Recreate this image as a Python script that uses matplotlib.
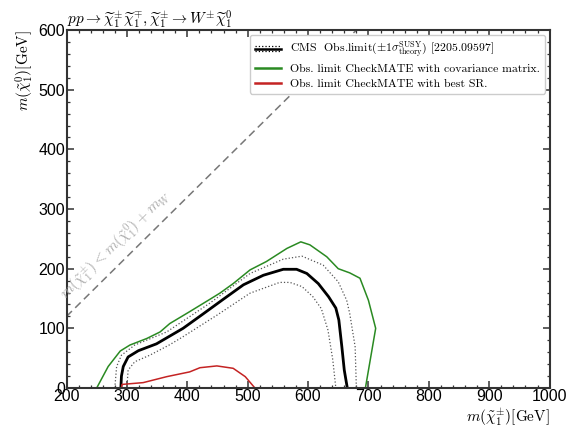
import matplotlib
matplotlib.use("Agg")
import matplotlib.pyplot as plt
from matplotlib.legend_handler import HandlerBase
from matplotlib.lines import Line2D
from matplotlib.ticker import MultipleLocator

plt.rcParams["mathtext.fontset"] = "cm"
plt.rcParams["font.family"] = ["Liberation Sans", "DejaVu Sans"]

# CMS observed limit (central) and its +-1 sigma_theory band edges
cms_x = [290, 291, 294, 302, 319, 349, 393, 426, 460, 493, 526, 559, 581, 598,
         617, 634, 646, 651, 656, 660, 665]
cms_y = [0, 20, 36, 52, 62.5, 74, 100, 124, 149, 173, 189, 199, 199, 192,
         175, 153, 134, 114, 69, 30, 0]
cms_up_x = [280, 283, 291, 313, 366, 437, 504, 559, 590, 625, 650, 664, 669, 678, 680]
cms_up_y = [0, 36, 55, 72, 94, 142, 192, 216, 221, 206, 178, 147, 125, 69, 0]
cms_dn_x = [300, 302, 313, 338, 370, 393, 449, 504, 553, 570, 590, 608, 622,
            633, 641, 646]
cms_dn_y = [0, 30, 44, 55, 72, 86, 122, 159, 177, 177, 170, 153, 133, 97, 47, 0]

# CheckMATE limits
cov_x = [250, 269, 289, 305, 333, 355, 371, 404, 438, 454, 476, 504, 531, 565,
         588, 603, 631, 650, 669, 686, 700, 712, 695]
cov_y = [0, 36, 62, 72, 83, 94, 108, 128, 149, 159, 175, 198, 212, 234,
         245, 240, 220, 200, 193, 184, 147, 100, 0]
bsr_x = [291, 292, 327, 366, 404, 421, 449, 476, 496, 512]
bsr_y = [0, 6, 9, 19, 27, 34, 37, 33, 19, 0]

M_W = 80
kin_x = [200, 1000]

GREEN, RED, DOT = "#2a8a22", "#c42323", "#555555"


class HandlerBand(HandlerBase):
    """Solid central line flanked by two dotted lines."""

    def create_artists(self, legend, orig_handle, xdescent, ydescent,
                       width, height, fontsize, trans):
        mid = height / 2 - ydescent
        x = [-xdescent, -xdescent + width]
        out = []
        for dy, ls, lw in ((0, "-", 1.8), (height * 0.32, ":", 0.9),
                           (-height * 0.32, ":", 0.9)):
            ln = Line2D(x, [mid + dy] * 2, linestyle=ls, linewidth=lw, color="black")
            ln.set_transform(trans)
            out.append(ln)
        return out


fig = plt.figure(figsize=(5.66, 4.30), dpi=100)
ax = fig.add_axes([0.1175, 0.0977, 0.8535, 0.8323])

ax.plot(kin_x, [v - M_W for v in kin_x], color="#777777", linestyle=(0, (5, 3)),
        linewidth=1.1, zorder=1)
ax.text(282, 240,
        r"$m(\tilde{\chi}_1^{\pm}) < m(\tilde{\chi}_1^{0}) + m_W$",
        rotation=44.6, rotation_mode="anchor", ha="center", va="center",
        fontsize=11, color="#aaaaaa")

ax.plot(cms_up_x, cms_up_y, color=DOT, linestyle=":", linewidth=0.9)
ax.plot(cms_dn_x, cms_dn_y, color=DOT, linestyle=":", linewidth=0.9)
ax.plot(cms_x, cms_y, color="black", linewidth=2.0)
ax.plot(cov_x, cov_y, color=GREEN, linewidth=1.1)
ax.plot(bsr_x, bsr_y, color=RED, linewidth=1.1)

band = Line2D([], [])
handles = [band,
           Line2D([], [], color=GREEN, linewidth=1.8),
           Line2D([], [], color=RED, linewidth=1.8)]
labels = [r"CMS  Obs.limit$(\pm1\sigma^{\mathrm{SUSY}}_{\mathrm{theory}})$ [2205.09597]",
          "Obs. limit CheckMATE with covariance matrix.",
          "Obs. limit CheckMATE with best SR."]
leg = ax.legend(handles, labels, handler_map={band: HandlerBand()},
                loc="upper right", prop={"family": "cmr10", "size": 8.5},
                framealpha=1, edgecolor="#cccccc", borderaxespad=0.4,
                borderpad=0.4, handlelength=2.2, labelspacing=0.35)
leg.set_zorder(5)

ax.set_xlim(200, 1000)
ax.set_ylim(0, 600)
ax.xaxis.set_major_locator(MultipleLocator(100))
ax.xaxis.set_minor_locator(MultipleLocator(20))
ax.yaxis.set_major_locator(MultipleLocator(100))
ax.yaxis.set_minor_locator(MultipleLocator(20))
ax.tick_params(which="both", direction="in", top=True, right=True,
               colors="#333333", labelcolor="black", labelsize=11.5)
ax.tick_params(which="major", length=5, width=1.1, pad=1)
ax.tick_params(which="minor", length=2.5, width=0.9)
for s in ax.spines.values():
    s.set_linewidth(1.5)
    s.set_color("#333333")

ax.set_xlabel(r"$m(\tilde{\chi}_1^{\pm})[\mathrm{GeV}]$", loc="right",
              fontsize=11, labelpad=1)
ax.set_ylabel(r"$m(\tilde{\chi}_1^{0})[\mathrm{GeV}]$", loc="top",
              fontsize=11, labelpad=2)
ax.set_title(r"$pp \rightarrow \widetilde{\chi}_1^{\pm}\widetilde{\chi}_1^{\mp},"
             r"\widetilde{\chi}_1^{\pm} \rightarrow W^{\pm}\widetilde{\chi}_1^{0}$",
             loc="left", fontsize=11, pad=3)

fig.savefig("out.png", dpi=100)
